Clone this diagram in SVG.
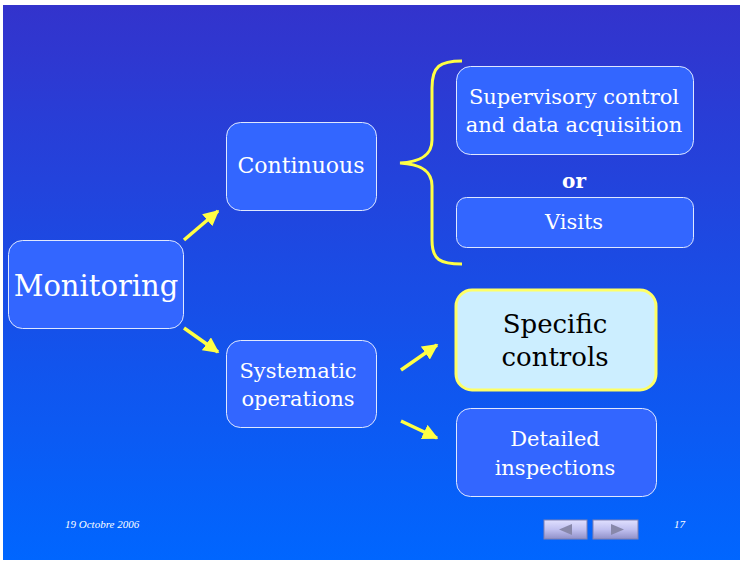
<svg xmlns="http://www.w3.org/2000/svg" width="743" height="563" viewBox="0 0 743 563">
<defs>
<linearGradient id="bg" x1="0" y1="0" x2="0" y2="1">
<stop offset="0" stop-color="#3333CC"/>
<stop offset="1" stop-color="#0066FF"/>
</linearGradient>
<linearGradient id="btn" x1="0" y1="0" x2="0" y2="1">
<stop offset="0" stop-color="#E0E0FF"/>
<stop offset="0.5" stop-color="#C0C0F0"/>
<stop offset="1" stop-color="#9090C8"/>
</linearGradient>
<marker id="ah" viewBox="0 0 10 10" refX="9" refY="5" markerWidth="4.5" markerHeight="4.5" orient="auto" markerUnits="strokeWidth">
<path d="M0,0 L10,5 L0,10 z" fill="#FFFF44"/>
</marker>
<style>
.box{fill:#3366FF;stroke:#E0E8FF;stroke-width:1}
.t{font-family:"DejaVu Serif","Liberation Serif",serif;fill:#FFFFFF;text-anchor:middle}
.arr{stroke:#FFFF44;stroke-width:3.5;fill:none;marker-end:url(#ah)}
.foot{font-family:"Liberation Serif",serif;font-style:italic;fill:#FFFFFF;font-size:11px}
</style>
</defs>
<rect x="0" y="0" width="743" height="563" fill="#FFFFFF"/>
<rect x="3" y="5" width="737" height="555" fill="url(#bg)"/>

<g id="connectors">
<line class="arr" x1="184" y1="240" x2="218" y2="211"/>
<line class="arr" x1="184" y1="328" x2="218" y2="352"/>
<line class="arr" x1="401" y1="370" x2="437" y2="345"/>
<line class="arr" x1="401" y1="421" x2="437" y2="438"/>
<path d="M462,61 C440,61 432,66 432,88 L432,140 C432,157 418,162 400,163 C418,164 432,169 432,186 L432,240 C432,260 440,264 462,264" fill="none" stroke="#FFFF44" stroke-width="3"/>
</g>

<g id="monitoring">
<rect class="box" x="8.5" y="240.5" width="175" height="88" rx="14"/>
<text class="t" x="96" y="296" font-size="29">Monitoring</text>
</g>
<g id="continuous">
<rect class="box" x="226.5" y="122.5" width="150" height="88" rx="14"/>
<text class="t" x="301" y="173" font-size="22">Continuous</text>
</g>
<g id="systematic">
<rect class="box" x="226.5" y="340.5" width="150" height="87" rx="14"/>
<text class="t" x="298" y="378" font-size="21">Systematic</text>
<text class="t" x="298" y="406" font-size="21">operations</text>
</g>
<g id="scada">
<rect class="box" x="456.5" y="66.5" width="237" height="88" rx="14"/>
<text class="t" x="574" y="104" font-size="21">Supervisory control</text>
<text class="t" x="574" y="132" font-size="21">and data acquisition</text>
</g>
<g id="or">
<text class="t" x="574" y="188" font-size="20" font-weight="bold" font-family="Liberation Serif">or</text>
</g>
<g id="visits">
<rect class="box" x="456.5" y="197.5" width="237" height="50" rx="10"/>
<text class="t" x="574" y="229" font-size="21">Visits</text>
</g>
<g id="specific">
<rect x="456" y="290" width="200" height="100" rx="16" fill="#CCEEFF" stroke="#FFFF66" stroke-width="3"/>
<text class="t" x="555" y="333" font-size="26" style="fill:#000000">Specific</text>
<text class="t" x="555" y="366" font-size="26" style="fill:#000000">controls</text>
</g>
<g id="detailed">
<rect class="box" x="456.5" y="408.5" width="200" height="88" rx="14"/>
<text class="t" x="555" y="446" font-size="21">Detailed</text>
<text class="t" x="555" y="475" font-size="21">inspections</text>
</g>

<g id="footer">
<text class="foot" x="65" y="528">19 Octobre 2006</text>
<text class="foot" x="674" y="528">17</text>
<rect x="544" y="520" width="43" height="19" fill="url(#btn)" stroke="#8080B0" stroke-width="1"/>
<path d="M559,529.5 L572,524 L572,535 z" fill="#8888AA"/>
<rect x="593" y="520" width="45" height="19" fill="url(#btn)" stroke="#8080B0" stroke-width="1"/>
<path d="M624,529.5 L611,524 L611,535 z" fill="#8888AA"/>
</g>
</svg>
